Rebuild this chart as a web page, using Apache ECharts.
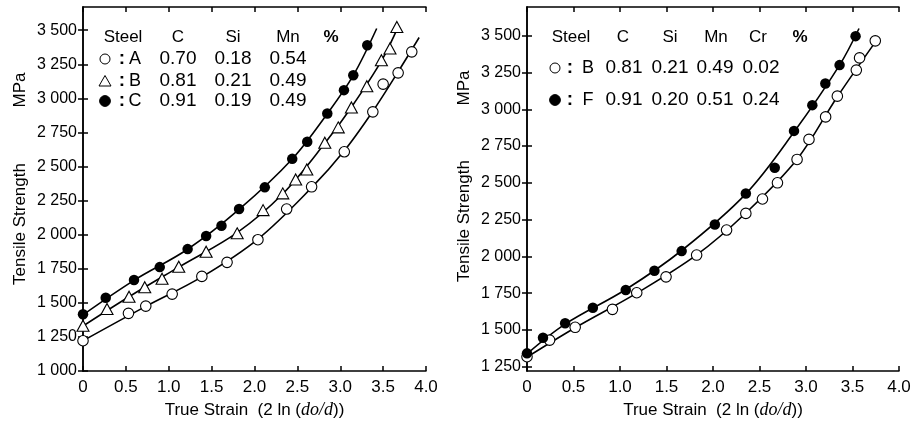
<!DOCTYPE html>
<html>
<head>
    <meta charset="utf-8">
    <script src="https://cdn.jsdelivr.net/npm/echarts@6/dist/echarts.min.js"></script>
    <style>
        html, body { margin: 0; padding: 0; background: #fff; }
        #main { width: 919px; height: 425px; }
    </style>
</head>
<body>
<div id="main"></div>
<script type="text/javascript">
    // left panel: steels A, B, C  (strain, MPa)
    var steelA_x = [0, 0.53, 0.732, 1.04, 1.386, 1.68, 2.04, 2.375, 2.666, 3.047, 3.38, 3.50, 3.675, 3.834];
    var steelA_y = [1222, 1423, 1476, 1564, 1694, 1797, 1963, 2188, 2351, 2608, 2901, 3104, 3187, 3341];
    var steelB_x = [0, 0.28, 0.537, 0.72, 0.922, 1.117, 1.436, 1.798, 2.1, 2.33, 2.48, 2.61, 2.82, 2.977, 3.13, 3.31, 3.48, 3.58, 3.66];
    var steelB_y = [1332, 1455, 1545, 1614, 1677, 1765, 1875, 2010, 2180, 2303, 2405, 2478, 2674, 2787, 2933, 3089, 3280, 3366, 3524];
    var steelC_x = [0, 0.265, 0.595, 0.895, 1.22, 1.436, 1.615, 1.82, 2.12, 2.44, 2.615, 2.849, 3.043, 3.152, 3.315];
    var steelC_y = [1416, 1537, 1667, 1762, 1894, 1990, 2065, 2188, 2347, 2556, 2681, 2889, 3060, 3170, 3390];

    // fitted curves
    var curveA = [[0, 1222], [0.732, 1474], [1.386, 1690], [2.04, 1968], [2.666, 2345], [3.047, 2615], [3.38, 2905], [3.675, 3195], [3.92, 3446]];
    var curveB = [[0, 1330], [0.537, 1545], [1.117, 1762], [1.798, 2015], [2.33, 2300], [2.82, 2670], [3.13, 2935], [3.48, 3275], [3.68, 3532]];
    var curveC = [[0, 1412], [0.595, 1665], [1.22, 1893], [1.82, 2185], [2.44, 2555], [2.849, 2887], [3.152, 3168], [3.425, 3512]];

    // right panel: steels B, F
    var steelB2_x = [0, 0.243, 0.518, 0.919, 1.18, 1.495, 1.824, 2.146, 2.353, 2.532, 2.693, 2.904, 3.032, 3.211, 3.337, 3.541, 3.576, 3.745];
    var steelB2_y = [1318, 1431, 1518, 1640, 1753, 1861, 2009, 2179, 2292, 2390, 2500, 2659, 2795, 2948, 3089, 3266, 3349, 3465];
    var steelF_x = [0, 0.172, 0.41, 0.708, 1.062, 1.37, 1.663, 2.02, 2.353, 2.664, 2.871, 3.068, 3.208, 3.361, 3.533];
    var steelF_y = [1341, 1447, 1545, 1651, 1771, 1902, 2036, 2217, 2428, 2602, 2853, 3028, 3175, 3300, 3497];

    var curveB2 = [[0, 1315], [0.518, 1515], [1.18, 1750], [1.824, 2010], [2.353, 2295], [2.904, 2660], [3.337, 3085], [3.76, 3470]];
    var curveF = [[0, 1338], [0.41, 1540], [1.062, 1775], [1.663, 2040], [2.353, 2425], [2.871, 2845], [3.361, 3300], [3.57, 3549]];

    var yTicksL = [1000, 1250, 1500, 1750, 2000, 2250, 2500, 2750, 3000, 3250, 3500];
    var yTicksR = [1250, 1500, 1750, 2000, 2250, 2500, 2750, 3000, 3250, 3500];

    var FONT = 'Liberation Sans, Arial, sans-serif';
    var INK = '#000';

    function pairs(xs, ys) {
        var out = [];
        for (var i = 0; i < xs.length; i++) out.push([xs[i], ys[i]]);
        return out;
    }
    function fmtY(v) {
        var k = Math.floor(v / 1000);
        var r = String(Math.round(v % 1000));
        while (r.length < 3) r = '0' + r;
        return k + ' ' + r;
    }
    function fmtX(v) {
        return v === 0 ? '0' : v.toFixed(1);
    }

    var lineStyle = { color: INK, width: 1.6 };
    var axisLineStyle = { color: INK, width: 1.5 };

    function xAxisPair(gi) {
        return [{
            type: 'value', gridIndex: gi, position: 'bottom', min: 0, max: 4, interval: 0.5,
            axisLine: { lineStyle: axisLineStyle },
            axisTick: { inside: true, length: 5, lineStyle: axisLineStyle },
            axisLabel: { formatter: fmtX, fontFamily: FONT, fontSize: 17, color: INK, margin: 8 },
            splitLine: { show: false },
            name: 'True Strain  (2 ln ({it|do/d}))', nameLocation: 'middle', nameGap: 28,
            nameTextStyle: {
                fontFamily: FONT, fontSize: 17, color: INK,
                rich: { it: { fontFamily: 'Liberation Serif, serif', fontStyle: 'italic', fontSize: 18, color: INK } }
            }
        }, {
            type: 'value', gridIndex: gi, position: 'top', min: 0, max: 4, interval: 0.5,
            axisLine: { lineStyle: axisLineStyle },
            axisTick: { inside: true, length: 5, lineStyle: axisLineStyle },
            axisLabel: { show: false },
            splitLine: { show: false }
        }];
    }
    function yAxisPair(gi, min, max, ticks) {
        return [{
            type: 'value', gridIndex: gi, position: 'left', min: min, max: max,
            axisLine: { lineStyle: axisLineStyle },
            axisTick: { inside: true, length: 5, lineStyle: axisLineStyle, customValues: ticks },
            axisLabel: { formatter: fmtY, fontFamily: FONT, fontSize: 16, color: INK, margin: 6, customValues: ticks },
            splitLine: { show: false }
        }, {
            type: 'value', gridIndex: gi, position: 'right', min: min, max: max,
            axisLine: { lineStyle: axisLineStyle },
            axisTick: { inside: true, length: 5, lineStyle: axisLineStyle, customValues: ticks },
            axisLabel: { show: false, customValues: ticks },
            splitLine: { show: false }
        }];
    }

    function curve(data, xi, yi) {
        return {
            type: 'line', xAxisIndex: xi, yAxisIndex: yi, data: data, smooth: 0.35,
            showSymbol: false, lineStyle: lineStyle, z: 2, silent: true
        };
    }
    function marks(data, xi, yi, kind) {
        var s = { type: 'scatter', xAxisIndex: xi, yAxisIndex: yi, data: data, z: 3 };
        if (kind === 'open') {
            s.symbol = 'circle'; s.symbolSize = 10.5;
            s.itemStyle = { color: '#fff', borderColor: INK, borderWidth: 1.1, opacity: 1 };
        } else if (kind === 'tri') {
            s.symbol = 'triangle'; s.symbolSize = [12, 11];
            s.itemStyle = { color: '#fff', borderColor: INK, borderWidth: 1.1, opacity: 1 };
        } else {
            s.symbol = 'circle'; s.symbolSize = 10.5;
            s.itemStyle = { color: INK, borderColor: INK, borderWidth: 0, opacity: 1 };
        }
        return s;
    }

    function txt(x, y, t, size, bold) {
        return {
            type: 'text', x: x, y: y, z: 10,
            style: {
                text: t, fill: INK, textAlign: 'center', textVerticalAlign: 'middle',
                font: (bold ? 'bold ' : '') + size + 'px ' + FONT
            }
        };
    }
    function vtxt(x, y, t) {
        return {
            type: 'text', x: x, y: y, rotation: Math.PI / 2, z: 10,
            style: { text: t, fill: INK, textAlign: 'center', textVerticalAlign: 'middle', font: '17px ' + FONT }
        };
    }
    function dot(x, y, filled) {
        return {
            type: 'circle', z: 10, shape: { cx: x, cy: y, r: filled ? 5.4 : 5 },
            style: { fill: filled ? INK : '#fff', stroke: INK, lineWidth: 1 }
        };
    }
    function tri(x, y) {
        return {
            type: 'polygon', z: 10, shape: { points: [[x, y - 5.5], [x + 6, y + 5], [x - 6, y + 5]] },
            style: { fill: '#fff', stroke: INK, lineWidth: 1 }
        };
    }

    var graphics = [
        vtxt(20, 90, 'MPa'), vtxt(20, 224, 'Tensile Strength'),
        vtxt(464, 88, 'MPa'), vtxt(464, 221, 'Tensile Strength'),
        // left legend
        txt(123, 37, 'Steel', 17), txt(178, 37, 'C', 17), txt(233, 37, 'Si', 17), txt(288, 37, 'Mn', 17), txt(331, 37, '%', 17, true),
        dot(105, 59, false), txt(122, 59, ':', 19, true), txt(135, 59, 'A', 18),
        txt(178, 59, '0.70', 19), txt(233, 59, '0.18', 19), txt(288, 59, '0.54', 19),
        tri(105, 81), txt(122, 81, ':', 19, true), txt(135, 81, 'B', 18),
        txt(178, 81, '0.81', 19), txt(233, 81, '0.21', 19), txt(288, 81, '0.49', 19),
        dot(105, 101, true), txt(122, 101, ':', 19, true), txt(135, 101, 'C', 18),
        txt(178, 101, '0.91', 19), txt(233, 101, '0.19', 19), txt(288, 101, '0.49', 19),
        // right legend
        txt(571, 37, 'Steel', 17), txt(623, 37, 'C', 17), txt(670, 37, 'Si', 17), txt(716, 37, 'Mn', 17), txt(758, 37, 'Cr', 17), txt(800, 37, '%', 17, true),
        dot(555, 68, false), txt(570, 68, ':', 19, true), txt(588, 68, 'B', 18),
        txt(624, 68, '0.81', 19), txt(670, 68, '0.21', 19), txt(715, 68, '0.49', 19), txt(761, 68, '0.02', 19),
        dot(555, 100, true), txt(570, 100, ':', 19, true), txt(588, 100, 'F', 18),
        txt(624, 100, '0.91', 19), txt(670, 100, '0.20', 19), txt(715, 100, '0.51', 19), txt(761, 100, '0.24', 19)
    ];

    var chart = echarts.init(document.getElementById('main'), null, { renderer: 'canvas' });
    chart.setOption({
        animation: false,
        backgroundColor: '#fff',
        grid: [
            { left: 83, right: 493, top: 7, bottom: 54 },
            { left: 527, right: 20, top: 7, bottom: 54 }
        ],
        xAxis: xAxisPair(0).concat(xAxisPair(1)),
        yAxis: yAxisPair(0, 1000, 3670, yTicksL).concat(yAxisPair(1, 1221, 3695, yTicksR)),
        graphic: graphics,
        series: [
            curve(curveA, 0, 0), curve(curveB, 0, 0), curve(curveC, 0, 0),
            marks(pairs(steelA_x, steelA_y), 0, 0, 'open'),
            marks(pairs(steelB_x, steelB_y), 0, 0, 'tri'),
            marks(pairs(steelC_x, steelC_y), 0, 0, 'filled'),
            curve(curveB2, 2, 2), curve(curveF, 2, 2),
            marks(pairs(steelB2_x, steelB2_y), 2, 2, 'open'),
            marks(pairs(steelF_x, steelF_y), 2, 2, 'filled')
        ]
    });
</script>
</body>
</html>
